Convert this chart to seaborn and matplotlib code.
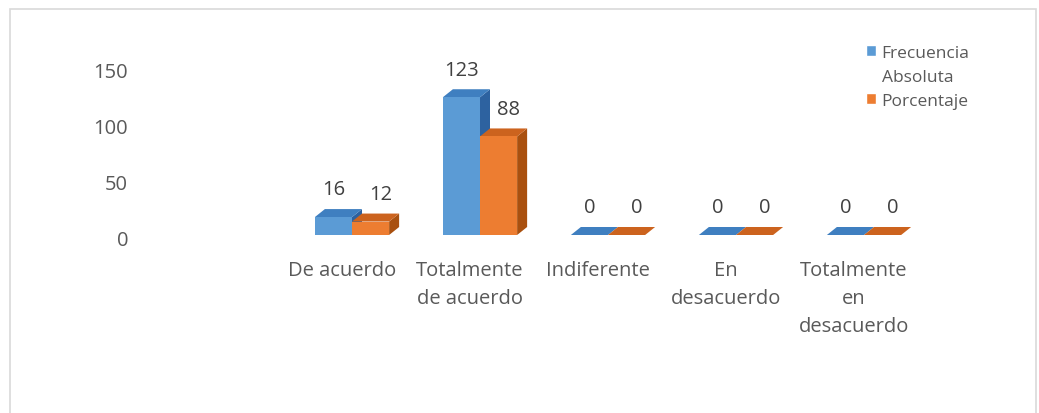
import seaborn as sns
import matplotlib.pyplot as plt
import pandas as pd
from matplotlib.patches import Polygon, Patch, Rectangle
from matplotlib.transforms import ScaledTranslation

# datos
categorias = ["De acuerdo", "Totalmente\nde acuerdo", "Indiferente", "En\ndesacuerdo", "Totalmente\nen\ndesacuerdo"]
frecuencia = [16, 123, 0, 0, 0]
porcentaje = [12, 88, 0, 0, 0]
series = ["Frecuencia\nAbsoluta", "Porcentaje"]
yticks = [0, 50, 100, 150]

df = pd.DataFrame({
    "categoria": categorias * 2,
    "valor": frecuencia + porcentaje,
    "serie": [series[0]] * len(categorias) + [series[1]] * len(categorias),
})

sns.set_style("white")
plt.rcParams['font.family'] = ['Open Sans', 'DejaVu Sans']

azul = ["#5b9bd5", "#3f7fc0", "#2d62a0"]      # frente, arriba, lado
naranja = ["#ed7d31", "#cc631e", "#a9500f"]

fig = plt.figure(figsize=(10.39, 4.14), dpi=100)
ax = fig.add_axes([160 / 1039, (414 - 236) / 414, 768 / 1039, 196 / 414])

sns.barplot(data=df, x="categoria", y="valor", hue="serie", palette=[azul[0], naranja[0]],
            width=0.58, saturation=1, legend=False, ax=ax, zorder=3,
            edgecolor="none", linewidth=0)

ax.set_xlim(-1.5, 4.5)
ax.set_ylim(0, 175)
ax.set_xlabel("")
ax.set_ylabel("")
ax.set_yticks(yticks)
sns.despine(ax=ax, left=True, bottom=True)
ax.tick_params(axis="both", length=0, labelsize=14.5, colors="#595959")
ax.tick_params(axis="x", pad=18)
ax.tick_params(axis="y", pad=23)
for lab in ax.get_xticklabels():
    lab.set_linespacing(1.55)
    lab.set_transform(lab.get_transform() + ScaledTranslation(-0.10, 0, fig.dpi_scale_trans))
for lab in ax.get_yticklabels():
    lab.set_transform(lab.get_transform() + ScaledTranslation(0, -0.03, fig.dpi_scale_trans))

# efecto 3D: profundidad en unidades de datos (10 px a la derecha, 8 px arriba)
pos = ax.get_position()
ancho_px = pos.width * fig.get_figwidth() * fig.dpi
alto_px = pos.height * fig.get_figheight() * fig.dpi
dx = 10 * 6 / ancho_px
dy = 8 * 175 / alto_px

colores = [azul, naranja]
for i, cont in enumerate(ax.containers):
    c = colores[i]
    for p in cont.patches:
        x0 = p.get_x()
        x1 = x0 + p.get_width()
        h = p.get_height()
        lado = Polygon([(x1, 0), (x1 + dx, dy), (x1 + dx, h + dy), (x1, h)],
                       closed=True, facecolor=c[2], edgecolor="none", zorder=2 + i * 0.5)
        arriba = Polygon([(x0, h), (x1, h), (x1 + dx, h + dy), (x0 + dx, h + dy)],
                         closed=True, facecolor=c[1], edgecolor="none", zorder=2.2 + i * 0.5)
        ax.add_patch(lado)
        ax.add_patch(arriba)
        ax.annotate(f"{h:.0f}", xy=((x0 + x1) / 2 + dx * i, h + dy), xytext=(0, 7),
                    textcoords="offset points", ha="center", va="bottom",
                    fontsize=14.5, color="#404040")

handles = [Patch(facecolor=azul[0]), Patch(facecolor="none", edgecolor="none"), Patch(facecolor=naranja[0])]
labels = ["Frecuencia", "Absoluta", "Porcentaje"]
ax.legend(handles, labels, loc="upper left", bbox_to_anchor=(866 / 1039, 1 - 46 / 414),
          bbox_transform=fig.transFigure, frameon=False, fontsize=12.5, labelcolor="#595959",
          handlelength=0.6, handleheight=0.6, handletextpad=0.3, borderpad=0,
          borderaxespad=0, labelspacing=0.45)

# borde del gráfico
fig.patches.append(Rectangle((10 / 1039, -0.05), 1026 / 1039, 1 - 10 / 414 + 0.05,
                             transform=fig.transFigure, fill=False, edgecolor="#d9d9d9", lw=1.2))

plt.savefig("out.png", dpi=100)
